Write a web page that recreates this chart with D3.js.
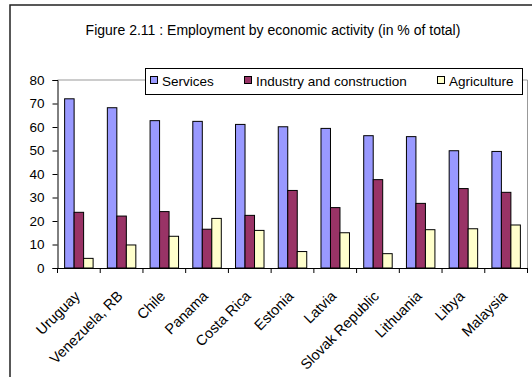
<!DOCTYPE html>
<html><head><meta charset="utf-8">
<script src="https://cdn.jsdelivr.net/npm/d3@7"></script>
<style>body{margin:0;background:#fff;} svg{display:block;font-family:"Liberation Sans",Arial,sans-serif;}</style>
</head><body>
<svg id="c" width="532" height="377"></svg>
<script>
const categories = ["Uruguay","Venezuela, RB","Chile","Panama","Costa Rica","Estonia","Latvia","Slovak Republic","Lithuania","Libya","Malaysia"];
const seriesNames = ["Services","Industry and construction","Agriculture"];
const services = [72,68.2,62.7,62.4,61.1,60.1,59.4,56.3,55.9,49.9,49.6];
const industry = [23.7,22.1,24,16.5,22.4,33,25.7,37.6,27.5,33.8,32.2];
const agriculture = [4.1,9.8,13.5,21.1,16,7,15,6.1,16.3,16.7,18.3];
const yTicks = [0,10,20,30,40,50,60,70,80];
const colors = ["#9999FF","#993366","#FFFFCC"];
const title = "Figure 2.11 : Employment by economic activity (in % of total)";

const svg = d3.select("#c");
const L=57.5, R=527.5, T=80, B=268;
const x = d3.scaleBand().domain(categories).range([L,R]).paddingInner(0).paddingOuter(0);
const y = d3.scaleLinear().domain([0,80]).range([B,T]);
const bw = x.bandwidth()/4.5;

// outer border
svg.append("rect").attr("x",10).attr("y",5).attr("width",540).attr("height",400)
  .attr("fill","none").attr("stroke","#222").attr("stroke-width",1.5);

svg.append("text").attr("x",273).attr("y",35).attr("text-anchor","middle")
  .attr("font-size",14).text(title);

// plot area border (top & right)
svg.append("path").attr("d",`M${L},${y(80)}H${R}V${B}`).attr("fill","none").attr("stroke","#999").attr("stroke-width",1);

const data = [services,industry,agriculture];
data.forEach((vals,si)=>{
  svg.append("g").selectAll("rect").data(categories).join("rect")
    .attr("x",(d)=>x(d)+bw*0.75+si*bw)
    .attr("y",(d,i)=>y(vals[i]))
    .attr("width",bw)
    .attr("height",(d,i)=>B-y(vals[i]))
    .attr("fill",colors[si]).attr("stroke","#000").attr("stroke-width",1);
});

// y axis
const ya = svg.append("g").attr("transform",`translate(${L},0)`)
  .call(d3.axisLeft(y).tickValues(yTicks).tickSize(5).tickPadding(8));
ya.selectAll("text").attr("font-size",13.5).attr("font-family","Liberation Sans, Arial, sans-serif").attr("fill","#000");
ya.selectAll("line,path").attr("stroke","#000");

// x axis
const xa = svg.append("g").attr("transform",`translate(0,${B})`)
  .call(d3.axisBottom(x).tickSize(0).tickFormat(""));
xa.select("path").attr("stroke","#000");
const tickPos = categories.map(c=>x(c)).concat([R]);
svg.append("g").selectAll("line").data(tickPos).join("line")
  .attr("x1",d=>d).attr("x2",d=>d).attr("y1",B).attr("y2",B+5).attr("stroke","#000");
svg.append("g").selectAll("text").data(categories).join("text")
  .attr("transform",d=>`translate(${x(d)+x.bandwidth()/2+2},${B+29}) rotate(-45)`)
  .attr("text-anchor","end").attr("font-size",14.5).text(d=>d);

// legend
const lg = svg.append("g");
lg.append("rect").attr("x",145.5).attr("y",68.5).attr("width",377).attr("height",26)
  .attr("fill","#fff").attr("stroke","#000");
const lx = [150,244,437];
seriesNames.forEach((n,i)=>{
  lg.append("rect").attr("x",lx[i]+0.5).attr("y",76.5).attr("width",7).attr("height",7)
    .attr("fill",colors[i]).attr("stroke","#000");
  lg.append("text").attr("x",lx[i]+12).attr("y",85.5).attr("font-size",13.5).text(n);
});
</script>
</body></html>
